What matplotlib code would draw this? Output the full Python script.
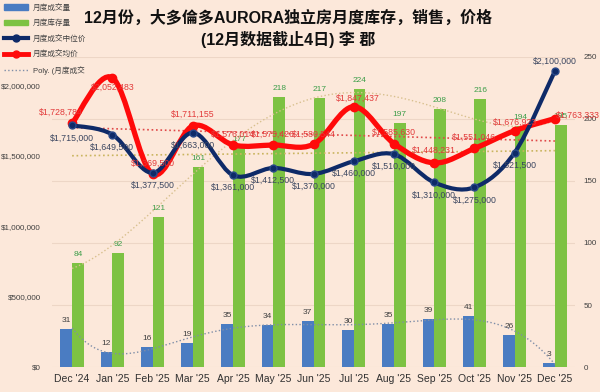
import numpy as np
import matplotlib.pyplot as plt
from matplotlib.path import Path
from matplotlib.patches import PathPatch
from matplotlib.lines import Line2D
from matplotlib.patches import Patch

plt.rcParams['font.family'] = ['Liberation Sans', 'Noto Sans CJK SC', 'DejaVu Sans']

months = ["Dec '24", "Jan '25", "Feb '25", "Mar '25", "Apr '25", "May '25", "Jun '25",
          "Jul '25", "Aug '25", "Sep '25", "Oct '25", "Nov '25", "Dec '25"]
sales = [31, 12, 16, 19, 35, 34, 37, 30, 35, 39, 41, 26, 3]
inventory = [84, 92, 121, 161, 177, 218, 217, 224, 197, 208, 216, 194, 195]
median_price = [1715000, 1649500, 1377500, 1663000, 1361000, 1412500, 1370000,
                1460000, 1510000, 1310000, 1275000, 1521500, 2100000]
avg_price = [1728784, 2052483, 1369500, 1711155, 1576014, 1575426, 1580544,
             1847437, 1585630, 1448231, 1551046, 1676923, 1763333]

bg = '#FCE8DA'
c_blue = '#4A7CC2'
c_green = '#7DC243'
c_navy = '#0E2A68'
c_red = '#FF0A0A'


def smooth_path(xs, ys):
    # excel style smoothed line, bezier through the points
    pts = np.column_stack([xs, ys]).astype(float)
    n = len(pts)
    verts = [pts[0]]
    codes = [Path.MOVETO]
    for i in range(n - 1):
        p0 = pts[i - 1] if i > 0 else pts[i]
        p1 = pts[i]
        p2 = pts[i + 1]
        p3 = pts[i + 2] if i + 2 < n else pts[i + 1]
        verts += [p1 + (p2 - p0) / 6, p2 - (p3 - p1) / 6, p2]
        codes += [Path.CURVE4] * 3
    return Path(verts, codes)


fig = plt.figure(figsize=(6, 3.92), dpi=100, facecolor=bg)
axb = fig.add_axes([52 / 600, 25 / 392, 523 / 600, 310 / 392])
axb.set_facecolor(bg)
axl = axb.twinx()

x = np.arange(len(months))
w = 0.29

axb.bar(x - w / 2, sales, w, color=c_blue, zorder=2)
axb.bar(x + w / 2, inventory, w, color=c_green, zorder=2)
for i in range(len(x)):
    axb.text(x[i] - w / 2, sales[i] + 4, str(sales[i]), ha='center', va='bottom',
             fontsize=6, color='#404040', zorder=3)
    axb.text(x[i] + w / 2, inventory[i] + 4, str(inventory[i]), ha='center', va='bottom',
             fontsize=6, color='#3E9E4A', zorder=3)

xf = np.linspace(0, 12, 200)
axb.plot(xf, np.polyval(np.polyfit(x, sales, 6), xf), ':', color='#7F8EA8', lw=1, zorder=3)
axb.plot(xf, np.polyval(np.polyfit(x, inventory, 4), xf), ':', color='#D8C08E', lw=1, zorder=3)

axb.set_ylim(0, 250)
axb.set_xlim(-0.5, 12.5)
axb.set_yticks([0, 50, 100, 150, 200, 250])
axb.yaxis.tick_right()
axb.tick_params(axis='y', length=0, pad=6, labelsize=5.8, labelcolor='#404040')
axb.set_xticks(x)
axb.set_xticklabels(months)
axb.tick_params(axis='x', length=0, pad=5, labelsize=7.5, labelcolor='#303030')
axb.grid(axis='y', color='#EDD6C6', lw=0.8, zorder=0)
axb.set_axisbelow(True)

# price lines
axl.plot(x, np.polyval(np.polyfit(x, avg_price, 1), x), ':', color='#E04848', lw=1.2, zorder=3)
axl.plot(x, np.polyval(np.polyfit(x, median_price, 1), x), ':', color='#C9B45E', lw=1.2, zorder=3)

axl.add_patch(PathPatch(smooth_path(x, avg_price), fill=False, ec=c_red, lw=3.8,
                        capstyle='round', zorder=4))
axl.plot(x, avg_price, 'o', color=c_red, ms=6, zorder=4)
axl.add_patch(PathPatch(smooth_path(x, median_price), fill=False, ec=c_navy, lw=3,
                        capstyle='round', zorder=5))
axl.plot(x, median_price, 'o', color=c_navy, mec='#2A4A8A', ms=5, zorder=5)

# label offsets in points
red_off = [(-8, 8), (0, -7), (0, 8), (0, 8), (0, 8), (0, 8), (0, 7),
           (3, 6), (0, 8), (0, 9), (0, 8), (0, 6), None]
for i in range(len(x)):
    lab = '${:,}'.format(avg_price[i])
    if red_off[i] is None:
        axl.annotate(lab, (x[i], avg_price[i]), xytext=(1, 2), textcoords='offset points',
                     ha='left', va='center', fontsize=6.3, color='#E23A3A', zorder=6)
    else:
        axl.annotate(lab, (x[i], avg_price[i]), xytext=red_off[i],
                     textcoords='offset points', ha='center', va='center',
                     fontsize=6.3, color='#E23A3A', zorder=6)
for i in range(len(x)):
    dy = 7 if i == len(x) - 1 else -9
    axl.annotate('${:,}'.format(median_price[i]), (x[i], median_price[i]), xytext=(0, dy),
                 textcoords='offset points', ha='center', va='center',
                 fontsize=6.3, color='#3B4660', zorder=6)

axl.set_ylim(0, 2200000)
axl.set_yticks([0, 500000, 1000000, 1500000, 2000000])
axl.set_yticklabels(['$0', '$500,000', '$1,000,000', '$1,500,000', '$2,000,000'])
axl.yaxis.tick_left()
axl.tick_params(axis='y', length=0, pad=8, labelsize=5.8, labelcolor='#404040')

for a in (axb, axl):
    for s in a.spines.values():
        s.set_visible(False)

fig.text(0.48, 0.955, '12月份，大多倫多AURORA独立房月度库存，销售，价格', ha='center', va='center',
         fontsize=11.5, fontweight='bold', color='#111111')
fig.text(0.48, 0.9, '(12月数据截止4日) 李 郡', ha='center', va='center',
         fontsize=11.5, fontweight='bold', color='#111111')

handles = [Patch(color=c_blue), Patch(color=c_green),
           Line2D([], [], color=c_navy, lw=3, marker='o', ms=5),
           Line2D([], [], color=c_red, lw=3.5, marker='o', ms=5),
           Line2D([], [], color='#7F8EA8', lw=1, ls=':')]
labels = ['月度成交量', '月度库存量', '月度成交中位价', '月度成交均价', 'Poly. (月度成交']
leg = fig.legend(handles, labels, loc='upper left', bbox_to_anchor=(0.0, 1.0), frameon=False,
                 fontsize=5.5, handlelength=3.2, labelspacing=1.0, handletextpad=0.6,
                 borderaxespad=0.2, borderpad=0.3, labelcolor='#404040')

fig.savefig('out.png', dpi=100, facecolor=bg)
